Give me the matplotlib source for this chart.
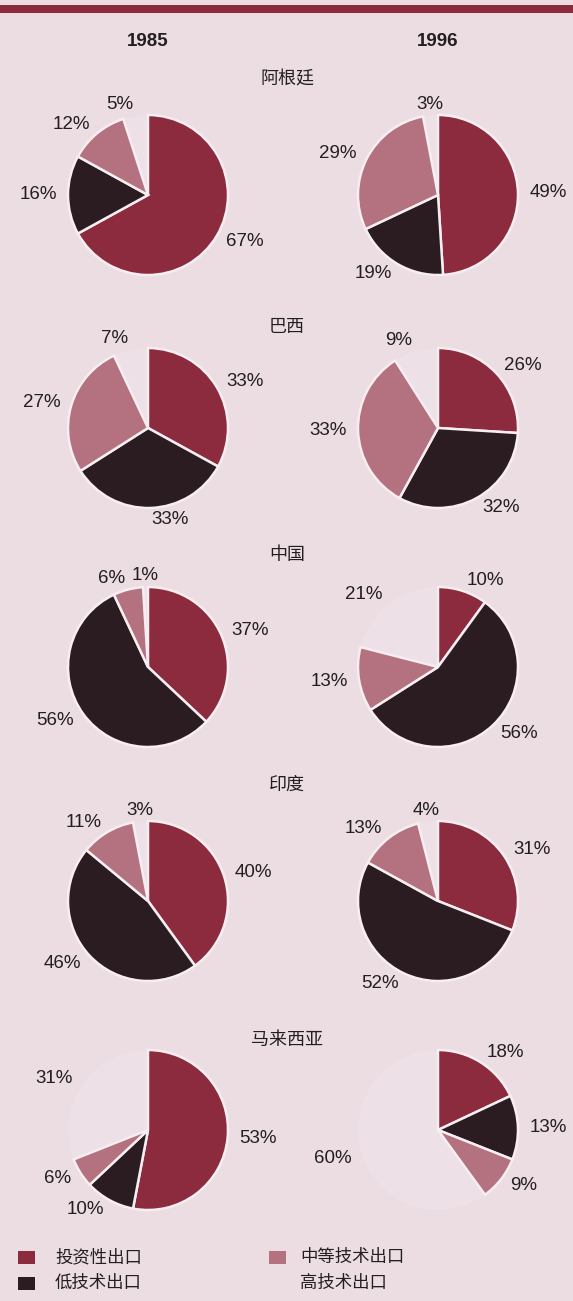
import matplotlib
matplotlib.use("Agg")
import matplotlib.pyplot as plt
from matplotlib.patches import Rectangle

plt.rcParams['font.family'] = ['Noto Sans CJK SC', 'DejaVu Sans']

# ---- data (shares of exports, %) ----
categories = ["投资性出口", "低技术出口", "中等技术出口", "高技术出口"]
years = ["1985", "1996"]
countries = ["阿根廷", "巴西", "中国", "印度", "马来西亚"]

argentina = [[67, 16, 12, 5], [49, 19, 29, 3]]
brazil = [[33, 33, 27, 7], [26, 32, 33, 9]]
china = [[37, 56, 6, 1], [10, 56, 13, 21]]
india = [[40, 46, 11, 3], [31, 52, 13, 4]]
malaysia = [[53, 10, 6, 31], [18, 13, 9, 60]]
shares = [argentina, brazil, china, india, malaysia]

# ---- style ----
W, H = 573, 1301
bg = "#ecdde3"
colors = ["#8c2a3e", "#2b1c21", "#b4717f", "#ede0e6"]
text_c = "#231f20"
num_font = ["Liberation Sans", "DejaVu Sans"]

col_x = [148, 438]
row_y = [195, 428, 667, 901, 1130]
title_y = [80, 327, 555, 785, 1040]
radius = 80
half = radius * 1.55

fig = plt.figure(figsize=(W / 100, H / 100), dpi=100, facecolor=bg)


def fx(x):
    return x / W


def fy(y):
    return 1 - y / H


# top band
fig.patches.append(Rectangle((0, fy(13)), 1, 8 / H, transform=fig.transFigure,
                             facecolor="#8a2a3a", edgecolor="none"))

for j, yr in enumerate(years):
    fig.text(fx(col_x[j]), fy(42), yr, ha="center", va="center",
             fontsize=13.5, fontweight="bold", color=text_c, family=num_font)

for i, name in enumerate(countries):
    fig.text(fx(287), fy(title_y[i]), name, ha="center", va="center",
             fontsize=13, color=text_c)
    for j in range(2):
        cx, cy = col_x[j], row_y[i]
        ax = fig.add_axes([fx(cx - half), fy(cy + half), 2 * half / W, 2 * half / H])
        vals = shares[i][j]
        wedges, texts = ax.pie(
            vals, colors=colors, startangle=90, counterclock=False,
            labels=[f"{v}%" for v in vals], labeldistance=1.14,
            wedgeprops=dict(edgecolor="#f7eef1", linewidth=1.8),
            textprops=dict(fontsize=13.5, color=text_c, family=num_font))
        # high-tech share is left blank (background colour, no outline)
        wedges[3].set_edgecolor("none")
        wedges[3].set_zorder(0)
        for v, t in zip(vals, texts):
            if v <= 4:
                t.set_ha("center")
        ax.set_xlim(-1.55, 1.55)
        ax.set_ylim(-1.55, 1.55)
        ax.set_aspect("equal")
        ax.axis("off")

# ---- legend ----
leg_pos = [(18, 1257), (18, 1283), (269, 1257), (269, 1283)]
for k, (lx, ly) in enumerate(leg_pos):
    if k != 3:
        fig.patches.append(Rectangle((fx(lx), fy(ly + 7)), 17 / W, 13 / H,
                                     transform=fig.transFigure,
                                     facecolor=colors[k], edgecolor="none"))
    fig.text(fx(lx + 37 if k < 2 else lx + 31), fy(ly), categories[k],
             ha="left", va="center", fontsize=12.5, color=text_c)

fig.savefig("out.png", dpi=100, facecolor=bg)
